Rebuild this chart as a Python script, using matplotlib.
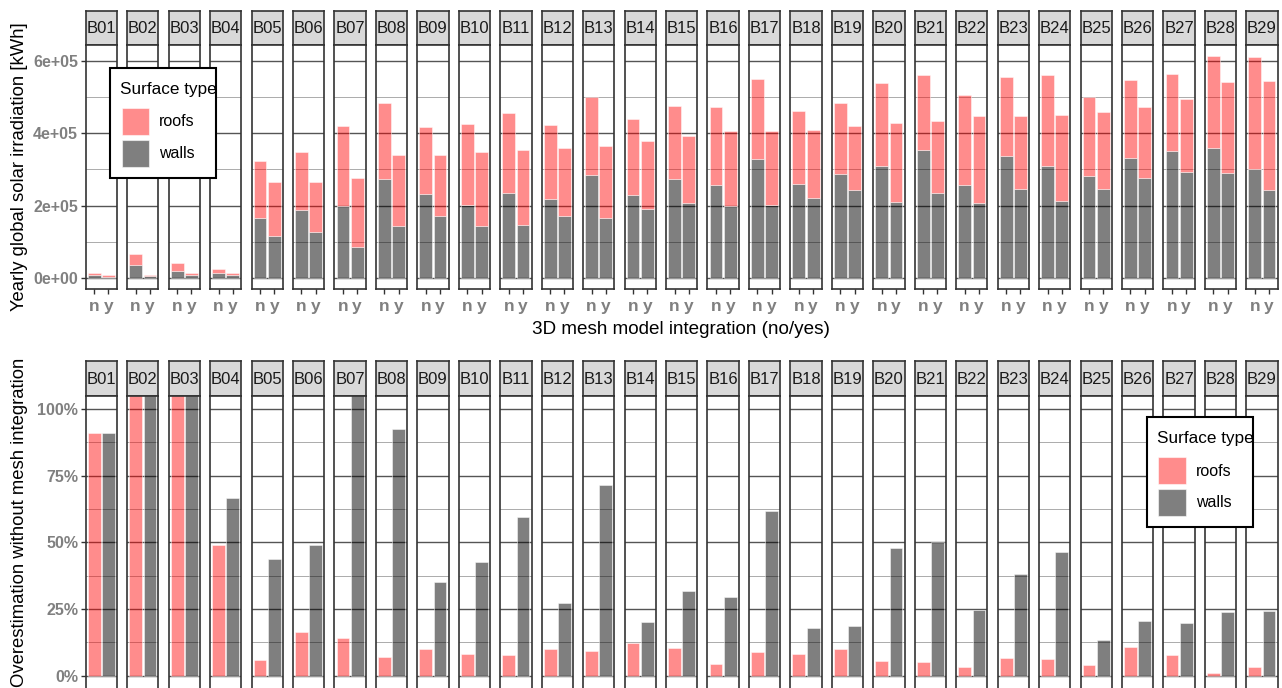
import matplotlib
matplotlib.use("Agg")
import matplotlib.pyplot as plt
from matplotlib.patches import Rectangle
from matplotlib.ticker import FixedLocator, FixedFormatter

# ---------------- data ----------------
buildings = ["B01", "B02", "B03", "B04", "B05", "B06", "B07", "B08", "B09", "B10",
             "B11", "B12", "B13", "B14", "B15", "B16", "B17", "B18", "B19", "B20",
             "B21", "B22", "B23", "B24", "B25", "B26", "B27", "B28", "B29"]
integration = ["n", "y"]

walls_n = [8500, 35000, 21000, 15500, 166000, 188000, 200000, 274000, 232000, 202000,
           235000, 219000, 285000, 229000, 273000, 256000, 329000, 259000, 287000, 310000,
           354000, 257000, 338000, 310000, 282000, 331000, 350000, 358000, 300000]
roofs_n = [7000, 32000, 20000, 8500, 157000, 161000, 221000, 210000, 185000, 222000,
           221000, 203000, 214000, 211000, 201000, 216000, 220000, 201000, 197000, 228000,
           205000, 247000, 216000, 250000, 219000, 216000, 214000, 255000, 309000]
walls_y = [4500, 5500, 9000, 9300, 116000, 126000, 86000, 143000, 172000, 143000,
           148000, 172000, 166000, 191000, 208000, 198000, 202000, 220000, 242000, 211000,
           235000, 206000, 246000, 212000, 247000, 277000, 292000, 290000, 243000]
roofs_y = [4000, 3500, 6000, 5700, 148000, 140000, 190000, 196000, 169000, 204000,
           205000, 186000, 198000, 187000, 183000, 207000, 203000, 188000, 178000, 217000,
           198000, 241000, 201000, 237000, 211000, 194000, 201000, 252000, 300000]

over_roofs = [0.911, 8.1, 2.33, 0.489, 0.059, 0.164, 0.1425, 0.071, 0.101, 0.0825,
              0.0775, 0.099, 0.094, 0.1225, 0.1025, 0.0425, 0.0875, 0.080, 0.101, 0.055,
              0.050, 0.034, 0.066, 0.064, 0.040, 0.106, 0.0775, 0.011, 0.031]
over_walls = [0.909, 5.4, 1.33, 0.665, 0.4375, 0.491, 1.33, 0.925, 0.351, 0.4275,
              0.595, 0.2725, 0.714, 0.2025, 0.316, 0.295, 0.619, 0.1775, 0.186, 0.4775,
              0.500, 0.245, 0.381, 0.465, 0.135, 0.205, 0.196, 0.240, 0.2425]

top_major = [0, 200000, 400000, 600000]
top_major_labels = ["0e+00", "2e+05", "4e+05", "6e+05"]
top_minor = [100000, 300000, 500000]
bot_major = [0, 0.25, 0.5, 0.75, 1.0]
bot_major_labels = ["0%", "25%", "50%", "75%", "100%"]
bot_minor = [0.125, 0.375, 0.625, 0.875]

legend_title = "Surface type"
legend_labels = ["roofs", "walls"]
top_ylabel = "Yearly global solar irradiation [kWh]"
top_xlabel = "3D mesh model integration (no/yes)"
bot_ylabel = "Overestimation without mesh integration"

# ---------------- style ----------------
plt.rcParams['font.family'] = ['Liberation Sans', 'DejaVu Sans']
W, H = 1282, 688
fig = plt.figure(figsize=(W / 100, H / 100), dpi=100)

C_ROOF = (1.0, 0.0, 0.0, 0.45)
C_WALL = (0.0, 0.0, 0.0, 0.5)
EDGE = (1, 1, 1, 0.55)
BORDER = "#333333"
MAJ = "#555555"
MIN = "#ababab"
TICKLAB = "#808080"


def ax_px(x0, y0, x1, y1):
    return fig.add_axes([x0 / W, 1 - y1 / H, (x1 - x0) / W, (y1 - y0) / H])


PITCH = 41.45
LEFT0 = 85.7
PW = 31.3

top_max = max(wn + rn for wn, rn in zip(walls_n, roofs_n))
top_ylim = (-0.05 * top_max, 1.05 * top_max)


def style_panel(ax, major, minor, ylim):
    ax.set_xlim(0.4, 2.6)
    ax.set_ylim(*ylim)
    ax.set_facecolor("white")
    for y in major:
        ax.axhline(y, color=MAJ, lw=1.0, zorder=0)
    for y in minor:
        ax.axhline(y, color=MIN, lw=0.7, zorder=0)
    for s in ax.spines.values():
        s.set_color(BORDER)
        s.set_linewidth(1.2)
        s.set_zorder(5)


def strip(x0, y0, x1, y1, label):
    sa = ax_px(x0, y0, x1, y1)
    sa.set_facecolor("#d9d9d9")
    sa.set_xticks([])
    sa.set_yticks([])
    for s in sa.spines.values():
        s.set_color(BORDER)
        s.set_linewidth(1.2)
    sa.text(0.5, 0.47, label, transform=sa.transAxes, ha="center", va="center",
            fontsize=12, color="#1a1a1a")


xpos = [1, 2]
for i, b in enumerate(buildings):
    x0 = LEFT0 + i * PITCH
    # ---- top row ----
    strip(x0, 10.7, x0 + PW, 44.8, b)
    ax = ax_px(x0, 44.8, x0 + PW, 289.3)
    style_panel(ax, top_major, top_minor, top_ylim)
    walls = [walls_n[i], walls_y[i]]
    roofs = [roofs_n[i], roofs_y[i]]
    ax.bar(xpos, walls, width=0.9, color=C_WALL, edgecolor=EDGE, linewidth=0.6, zorder=2)
    ax.bar(xpos, roofs, bottom=walls, width=0.9, color=C_ROOF, edgecolor=EDGE,
           linewidth=0.6, zorder=2)
    ax.set_xticks(xpos)
    ax.set_xticklabels(integration)
    ax.tick_params(axis="x", length=3.5, width=1.0, color=BORDER, pad=3.5,
                   labelsize=12.5, labelcolor=TICKLAB)
    for t in ax.get_xticklabels():
        t.set_fontweight("bold")
    if i == 0:
        ax.yaxis.set_major_locator(FixedLocator(top_major))
        ax.yaxis.set_major_formatter(FixedFormatter(top_major_labels))
        ax.tick_params(axis="y", length=3.5, width=1.0, color=BORDER, pad=2,
                       labelsize=11.5, labelcolor=TICKLAB)
        for t in ax.get_yticklabels():
            t.set_fontweight("bold")
    else:
        ax.set_yticks([])

    # ---- bottom row ----
    strip(x0, 361.0, x0 + PW, 395.7, b)
    bx = ax_px(x0, 395.7, x0 + PW, 688.9)
    style_panel(bx, bot_major, bot_minor, (-0.05, 1.05))
    bx.bar([1], [over_roofs[i]], width=0.9, color=C_ROOF, edgecolor=EDGE,
           linewidth=0.6, zorder=2)
    bx.bar([2], [over_walls[i]], width=0.9, color=C_WALL, edgecolor=EDGE,
           linewidth=0.6, zorder=2)
    bx.set_xticks([])
    if i == 0:
        bx.yaxis.set_major_locator(FixedLocator(bot_major))
        bx.yaxis.set_major_formatter(FixedFormatter(bot_major_labels))
        bx.tick_params(axis="y", length=3.5, width=1.0, color=BORDER, pad=2,
                       labelsize=11.5, labelcolor=TICKLAB)
        for t in bx.get_yticklabels():
            t.set_fontweight("bold")
    else:
        bx.set_yticks([])

# axis titles
fig.text(20 / W, 1 - 166.5 / H, top_ylabel, rotation=90, ha="center", va="center",
         fontsize=13.3, color="black")
fig.text(681 / W, 1 - 329 / H, top_xlabel, ha="center", va="center", fontsize=13.6,
         color="black")
fig.text(20 / W, 1 - 522 / H, bot_ylabel, rotation=90, ha="center", va="center",
         fontsize=13.3, color="black")


# legends
def legend(x0, y0):
    bw, bh = 106, 110.6
    fig.patches.append(Rectangle((x0 / W, 1 - (y0 + bh) / H), bw / W, bh / H,
                                 transform=fig.transFigure, facecolor="white",
                                 edgecolor="black", linewidth=1.5, zorder=10))
    fig.text((x0 + 10) / W, 1 - (y0 + 21.5) / H, legend_title, ha="left", va="center",
             fontsize=12.3, color="black", zorder=11)
    cols = [C_ROOF, C_WALL]
    for k, lab in enumerate(legend_labels):
        ky = y0 + 40.3 + k * 31.5
        fig.patches.append(Rectangle(((x0 + 11.7) / W, 1 - (ky + 27) / H), 27.3 / W, 27 / H,
                                     transform=fig.transFigure, facecolor=cols[k],
                                     edgecolor=EDGE, linewidth=0.8, zorder=11))
        fig.text((x0 + 49) / W, 1 - (ky + 14) / H, lab, ha="left", va="center",
                 fontsize=11.5, color="black", zorder=12)


legend(110, 67.7)
legend(1146.7, 416.7)

fig.savefig("out.png", dpi=100)
